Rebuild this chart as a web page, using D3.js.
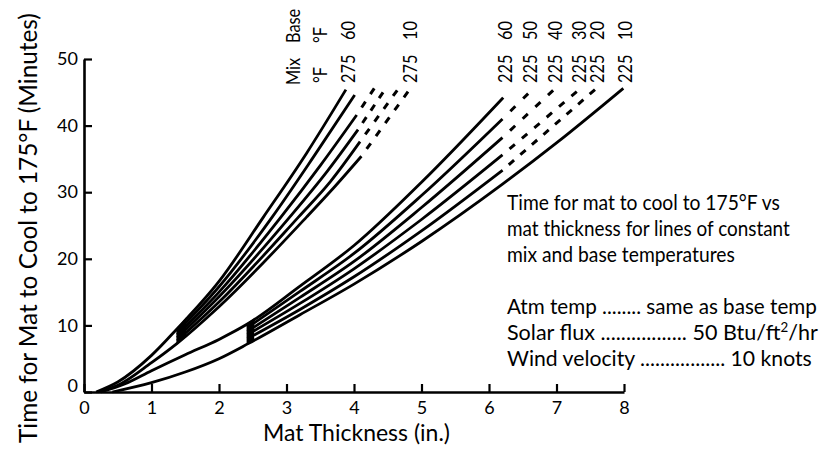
<!DOCTYPE html>
<html>
<head>
<meta charset="utf-8">
<script src="https://cdn.jsdelivr.net/npm/d3@7"></script>
<style>
  html, body { margin: 0; padding: 0; background: #fff; }
  svg { display: block; font-family: Lato, "Open Sans", sans-serif; }
</style>
</head>
<body>
<svg id="chart" width="819" height="460"></svg>
<script>
// Cooling time curves, points are [mat thickness (in.), minutes to cool to 175°F]
const baseTemps = [60, 50, 40, 30, 20, 10];

// Mix temperature 275°F, one curve per base temperature (60 ... 10)
const solid275 = [
  [[0.18, 0], [0.5, 1.5], [1.0, 5.5], [1.38, 9.5], [2.0, 16.6], [2.66, 26.3], [3.3, 35.9], [3.88, 45.4]],
  [[1.38, 9.05], [2.0, 15.8], [2.79, 26.3], [3.4, 35.3], [4.01, 44.6]],
  [[1.38, 8.6], [2.0, 15.0], [2.92, 26.3], [3.5, 34.0], [4.04, 41.6]],
  [[1.38, 8.15], [2.0, 14.3], [3.05, 26.3], [3.6, 33.1], [4.06, 39.4]],
  [[1.38, 7.7], [2.0, 13.5], [3.18, 26.3], [3.65, 31.6], [4.09, 37.6]],
  [[0.2, 0], [0.5, 1.0], [1.0, 4.4], [1.38, 7.3], [2.0, 12.8], [3.30, 26.3], [3.72, 30.9], [4.11, 35.4]]
];
const dashed275 = [
  [],
  [],
  [[4.04, 41.6], [4.30, 45.6]],
  [[4.06, 39.4], [4.43, 45.0]],
  [[4.09, 37.6], [4.64, 45.3]],
  [[4.11, 35.4], [4.80, 45.1]]
];

// Mix temperature 225°F, one curve per base temperature (60 ... 10)
const solid225 = [
  [[0.25, 0], [0.6, 1.2], [1.0, 3.2], [1.5, 5.6], [2.0, 7.9], [2.42, 10.2], [3.2, 15.9], [4.0, 22.0], [5.0, 31.5], [6.21, 44.2]],
  [[2.42, 9.65], [3.2, 15.1], [4.0, 20.8], [5.0, 29.5], [6.2, 41.0]],
  [[2.42, 9.1], [3.2, 14.2], [4.0, 19.6], [5.0, 27.7], [6.2, 38.2]],
  [[2.42, 8.6], [3.2, 13.3], [4.0, 18.5], [5.0, 25.9], [6.2, 35.6]],
  [[2.42, 8.0], [3.2, 12.4], [4.0, 17.3], [5.0, 24.2], [6.2, 33.3]],
  [[0.42, 0], [1.0, 1.4], [1.5, 3.0], [2.0, 5.0], [2.44, 7.3], [3.2, 11.6], [4.0, 16.2], [5.0, 22.6], [6.2, 31.2], [7.0, 37.4], [7.99, 45.6]]
];
const dashed225 = [
  [],
  [[6.2, 41.0], [6.58, 44.8]],
  [[6.2, 38.2], [6.95, 45.3]],
  [[6.2, 35.6], [7.3, 45.1]],
  [[6.2, 33.3], [7.57, 45.4]],
  []
];

// Which curves carry a mix/base label at their upper end
const labeled275 = [60, 10];
const labeled225 = [60, 50, 40, 30, 20, 10];

const xTicks = [0, 1, 2, 3, 4, 5, 6, 7, 8];
const yTicks = [0, 10, 20, 30, 40, 50];

const xTitle = "Mat Thickness (in.)";
const yTitle = "Time for Mat to Cool to 175°F (Minutes)";

// Note block: each line is a list of [text, superscript?] runs
const noteLines = [
  [["Time for mat to cool to 175°F vs", false]],
  [["mat thickness for lines of constant", false]],
  [["mix and base temperatures", false]],
  [],
  [["Atm temp ........ same as base temp", false]],
  [["Solar flux ................. 50 Btu/ft", false], ["2", true], ["/hr", false]],
  [["Wind velocity ................. 10 knots", false]]
];

const families = [
  { mix: 275, solid: solid275, dashed: dashed275, labeled: labeled275, wedge: 0.12 },
  { mix: 225, solid: solid225, dashed: dashed225, labeled: labeled225, wedge: 0.09 }
];

const svg = d3.select("#chart");
const x = d3.scaleLinear().domain([0, 8]).range([84, 624]);
const y = d3.scaleLinear().domain([0, 50]).range([392, 59]);

const curve = d3.line().x(d => x(d[0])).y(d => y(d[1])).curve(d3.curveMonotoneX);
const straight = d3.line().x(d => x(d[0])).y(d => y(d[1]));

// ---- axes ----
const xAxis = svg.append("g")
  .attr("transform", `translate(0,${y(0)})`)
  .call(d3.axisBottom(x).tickValues(xTicks).tickFormat(d3.format("d"))
    .tickSizeInner(-8).tickSizeOuter(0).tickPadding(9));
const yAxis = svg.append("g")
  .attr("transform", `translate(${x(0)},0)`)
  .call(d3.axisLeft(y).tickValues(yTicks).tickFormat(d3.format("d"))
    .tickSizeInner(-8).tickSizeOuter(0).tickPadding(6));

[xAxis, yAxis].forEach(g => {
  g.attr("font-family", null).attr("font-size", null);
  g.select(".domain").attr("stroke", "#000").attr("stroke-width", 2.6);
  g.selectAll(".tick line").attr("stroke", "#000").attr("stroke-width", 2.2);
  g.selectAll(".tick text").attr("fill", "#000").attr("font-size", 18);
});
// lift the y-axis zero clear of the x-axis zero
yAxis.selectAll(".tick").filter(d => d === 0).select("text").attr("dy", "-0.05em");

// ---- curves ----
const plot = svg.append("g").attr("fill", "none").attr("stroke", "#000");

families.forEach(f => {
  f.solid.forEach(pts => {
    plot.append("path").attr("d", curve(pts))
      .attr("stroke-width", 2.8).attr("stroke-linejoin", "round");
  });

  // dashed extensions: begin with a gap, finish on a dash
  f.dashed.forEach(pts => {
    if (!pts.length) return;
    const p = plot.append("path").attr("d", straight(pts)).attr("stroke-width", 3);
    const L = p.node().getTotalLength();
    const dash = 7;
    const n = Math.max(1, Math.round(L / 16));
    const gap = L / n - dash;
    p.attr("stroke-dasharray", `${dash},${gap}`).attr("stroke-dashoffset", dash);
  });

  // dark start where the bundle of curves leaves the envelope
  const top = f.solid[0], bot = f.solid[f.solid.length - 1];
  const x0 = f.solid[1][0][0];
  const topY = d3.scaleLinear().domain(top.map(d => d[0])).range(top.map(d => d[1]));
  const botY = d3.scaleLinear().domain(bot.map(d => d[0])).range(bot.map(d => d[1]));
  const xs = [x0, x0 + f.wedge / 2, x0 + f.wedge];
  const poly = xs.map(t => [t, topY(t)]).concat(xs.slice().reverse().map(t => [t, botY(t)]));
  svg.append("path").attr("d", straight(poly) + "Z").attr("fill", "#000")
    .attr("stroke", "#000").attr("stroke-width", 1.5);
});

// ---- rotated labels at the curve tops ----
function upText(cx, yBottom, str) {
  svg.append("text")
    .attr("transform", `translate(${cx},${yBottom}) rotate(-90) scale(0.86,1)`)
    .attr("dy", "0.36em")
    .attr("font-size", 19)
    .attr("fill", "#000")
    .text(str);
}

upText(293, 85, "Mix");
upText(293, 43, "Base");
upText(320, 83, "°F");
upText(320, 43, "°F");

families.forEach(f => {
  f.labeled.forEach(b => {
    const i = baseTemps.indexOf(b);
    const pts = f.dashed[i].length ? f.dashed[i] : f.solid[i];
    const end = pts[pts.length - 1];
    const lx = x(end[0]) + 2;
    upText(lx, 83, String(f.mix));
    upText(lx, 40, String(b));
  });
});

// ---- axis titles ----
function fitted(tx, ty, rot, size, str, target) {
  const g = svg.append("g");
  const t = g.append("text").attr("font-size", size).attr("fill", "#000").text(str);
  const s = target / t.node().getComputedTextLength();
  g.attr("transform", `translate(${tx},${ty}) rotate(${rot}) scale(${s},1)`);
}
fitted(263, 441, 0, 23.5, xTitle, 187);
fitted(37, 443, -90, 25, yTitle, 430);

// ---- note block ----
const noteLeft = 507;
const noteRight = [780, 790, 735, null, 817, 818, 812];
const note = svg.append("g").attr("font-size", 21).attr("fill", "#000");
noteLines.forEach((runs, i) => {
  if (!runs.length) return;
  const t = note.append("text");
  let raised = false;
  runs.forEach(([str, sup]) => {
    const s = t.append("tspan").text(str);
    if (sup && !raised) { s.attr("font-size", 13).attr("dy", -8); raised = true; }
    else if (!sup && raised) { s.attr("dy", 8); raised = false; }
  });
  const w = t.node().getComputedTextLength();
  const sx = (noteRight[i] - noteLeft) / w;
  t.attr("transform", `translate(${noteLeft},${210 + i * 26}) scale(${sx},1)`);
});
</script>
</body>
</html>
